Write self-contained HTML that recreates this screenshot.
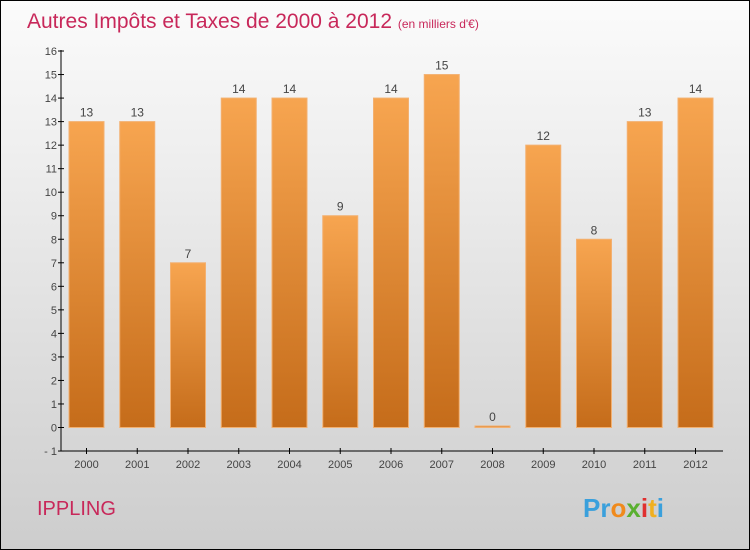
<!DOCTYPE html>
<html><head><meta charset="utf-8"><style>
body{margin:0}
#c{width:748px;height:548px;border:1px solid #000;background:linear-gradient(#fbfbfb,#f0f0f0 25%,#cdcdcd);position:relative;overflow:hidden;font-family:"Liberation Sans",sans-serif}
</style></head><body>
<div id="c">
<svg id="s" width="748" height="548">
<defs><linearGradient id="g" x1="0" y1="0" x2="0" y2="1"><stop offset="0" stop-color="#f7a550"/><stop offset="1" stop-color="#c56c1a"/></linearGradient></defs>
<text x="26" y="27" font-size="21" fill="#c8285a">Autres Impôts et Taxes de 2000 à 2012 <tspan font-size="12">(en milliers d'€)</tspan></text>
<text x="36" y="514" font-size="20" fill="#c8285a">IPPLING</text>
<text x="582" y="516" font-size="26" font-weight="bold" fill="#3aa0dc">Pr<tspan fill="#f08a1c">o</tspan><tspan fill="#5ab030">x</tspan><tspan fill="#e03030">i</tspan><tspan fill="#f0b020">t</tspan><tspan fill="#3aa0dc">i</tspan></text>
<g id="plot"></g>
</svg></div>
<script>
const years=["2000","2001","2002","2003","2004","2005","2006","2007","2008","2009","2010","2011","2012"];
const values=[13,13,7,14,14,9,14,15,0,12,8,13,14];
const yTicks=[-1,0,1,2,3,4,5,6,7,8,9,10,11,12,13,14,15,16];
const NS="http://www.w3.org/2000/svg",p=document.getElementById('plot');
const y=v=>426.5-(v)*23.53, x=i=>85.5+i*50.75;
function el(t,a){const e=document.createElementNS(NS,t);for(const k in a)e.setAttribute(k,a[k]);p.appendChild(e);return e;}
let ax=el('line',{x1:60,y1:49,x2:60,y2:450,stroke:'#000'});

let bx=el('line',{x1:60,y1:450,x2:722,y2:450,stroke:'#000'});

yTicks.forEach(v=>{el('line',{x1:57,x2:63,y1:y(v),y2:y(v),stroke:'#000'});
const t=el('text',{x:56,y:y(v)+4,'font-size':11,fill:'#444','text-anchor':'end'});t.textContent=v===-1?'- 1':v;
});
years.forEach((yr,i)=>{const cx=x(i),v=values[i];
el('line',{x1:cx,x2:cx,y1:447,y2:453,stroke:'#000'});
const t=el('text',{x:cx,y:467,'font-size':11,fill:'#444','text-anchor':'middle'});t.textContent=yr;

const h=Math.max(Math.abs(y(0)-y(v)),1.5);
const r=el('rect',{x:cx-17.5,y:Math.min(y(v),y(0)-1.5),width:35,height:h,fill:'url(#g)',stroke:'#f3b070','stroke-width':1});

const l=el('text',{x:cx,y:Math.min(y(v),y(0)-1.5)-5,'font-size':12,fill:'#444','text-anchor':'middle'});l.textContent=v;
});
</script></body></html>
